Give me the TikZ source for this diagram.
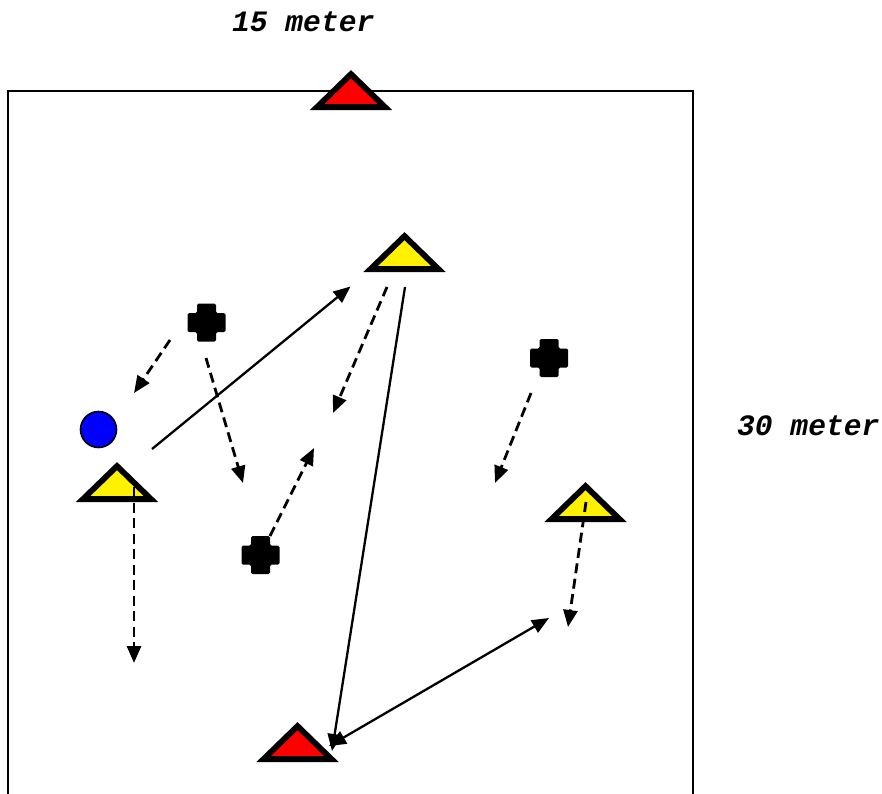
\documentclass[tikz,border=0pt]{standalone}
\usepackage{fontspec}
\newfontfamily\cour{Liberation Mono}
\usetikzlibrary{arrows.meta}
\begin{document}
\begin{tikzpicture}[x=1pt,y=-1pt,
  tri/.style={draw=black, line width=5.8pt, line join=miter, miter limit=10},
  tip/.tip={Triangle[length=17pt,width=14pt]},
  solidarr/.style={line width=2.3pt, -tip},
  dasharr/.style={line width=2.8pt, dash pattern=on 10pt off 5.5pt, -tip},
  player/.style={fill=black, rounded corners=1.5pt},
  lbl/.style={anchor=base west, inner sep=0pt, font=\cour\bfseries\itshape\fontsize{29.6}{30}\selectfont}]
\useasboundingbox (0,0) rectangle (882,793);
% frame (bottom edge lies below the picture)
\draw[line width=2pt] (8,800) -- (8,91) -- (693,91) -- (693,800);
% labels
\node[lbl] (t15) at (232,31) {15 meter};
\node[lbl] (t30) at (737,435) {30 meter};
% cones
\newcommand\conetri[3]{\draw[tri,fill=#1] (#2,#3) ++(-34,0) -- ++(34,-33) -- ++(34,33) -- cycle;}
\conetri{red}{351}{107.1}
\conetri{yellow}{404.5}{269.1}
\conetri{yellow}{117}{499.1}
\conetri{yellow}{585.5}{519.1}
\conetri{red}{297.5}{759.1}
% players
\newcommand\plusplayer[2]{\fill[player] (#1-9.5,#2-19) -- (#1+9.5,#2-19) -- (#1+9.5,#2-9.5) -- (#1+19,#2-9.5) -- (#1+19,#2+9.5) -- (#1+9.5,#2+9.5) -- (#1+9.5,#2+19) -- (#1-9.5,#2+19) -- (#1-9.5,#2+9.5) -- (#1-19,#2+9.5) -- (#1-19,#2-9.5) -- (#1-9.5,#2-9.5) -- cycle;}
\plusplayer{206.5}{322.5}
\plusplayer{549}{358}
\plusplayer{260.5}{555}
% ball
\node[circle, draw=black, line width=1.6pt, fill=blue, minimum size=36pt, inner sep=0pt] (ball) at (98.5,429.5) {};
% arrow end points
\coordinate (a1s) at (170,340);  \coordinate (a1e) at (134,393);
\coordinate (a2s) at (206,358);  \coordinate (a2e) at (243,483);
\coordinate (a3s) at (152,449);  \coordinate (a3e) at (350.5,286.5);
\coordinate (a4s) at (387,287);  \coordinate (a4e) at (333,413);
\coordinate (a5s) at (405,287);  \coordinate (a5e) at (332,751);
\coordinate (a6s) at (549,618);  \coordinate (a6e) at (329,746);
\coordinate (a7s) at (531,393);  \coordinate (a7e) at (495,483);
\coordinate (a8s) at (586,502);  \coordinate (a8e) at (568,627);
\coordinate (a9s) at (270,536);  \coordinate (a9e) at (314,448);
\coordinate (a10s) at (134,487); \coordinate (a10e) at (134,663);
% arrows
\draw[dasharr] (a1s) -- (a1e);
\draw[dasharr] (a2s) -- (a2e);
\draw[solidarr] (a3s) -- (a3e);
\draw[dasharr] (a4s) -- (a4e);
\draw[solidarr] (a5s) -- (a5e);
\draw[solidarr, tip-tip] (a6s) -- (a6e);
\draw[dasharr] (a7s) -- (a7e);
\draw[dasharr] (a8s) -- (a8e);
\draw[dasharr] (a9s) -- (a9e);
\draw[dasharr] (a10s) -- (a10e);
\end{tikzpicture}
\end{document}
